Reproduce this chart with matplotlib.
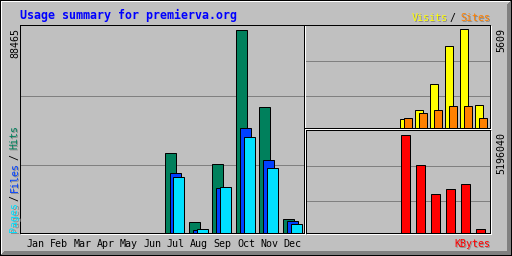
import matplotlib
matplotlib.use("Agg")
import matplotlib.pyplot as plt
from matplotlib.patches import Rectangle, Polygon
from matplotlib.transforms import blended_transform_factory
import numpy as np

# ---- data ----
months = ["Jan", "Feb", "Mar", "Apr", "May", "Jun",
          "Jul", "Aug", "Sep", "Oct", "Nov", "Dec"]
hits = [0, 0, 0, 0, 0, 0, 34428, 4358, 29634, 88465, 54474, 6101]
files = [0, 0, 0, 0, 0, 0, 25713, 1307, 19175, 45323, 31377, 4794]
pages = [0, 0, 0, 0, 0, 0, 23969, 1743, 19611, 41401, 27891, 3922]
visits = [0, 0, 0, 0, 0, 0, 458, 1030, 2518, 4693, 5609, 1316]
sites = [0, 0, 0, 0, 0, 0, 572, 858, 1030, 1202, 1202, 572]
kbytes = [0, 0, 0, 0, 0, 0, 5196040, 3605400, 2014800, 2279900, 2545000, 212000]
title = "Usage summary for premierva.org"

# ---- colours ----
BG = "#c0c0c0"
DKGREY = "#808080"
C_HITS = "#00805c"
C_FILES = "#0040ff"
C_PAGES = "#00e0ff"
C_VISITS = "#ffff00"
C_SITES = "#ff8000"
C_KB = "#ff0000"
MONO = "DejaVu Sans Mono"

W, H = 512, 256
fig = plt.figure(figsize=(W / 100, H / 100), dpi=100)
fig.patch.set_facecolor(BG)


def px_axes(u0, u1, v0, v1, z=1):
    ax = fig.add_axes([u0 / W, 1 - v1 / H, (u1 - u0) / W, (v1 - v0) / H])
    ax.set_axis_off()
    ax.set_zorder(z)
    return ax


# overlay in pixel coordinates
ov = fig.add_axes([0, 0, 1, 1])
ov.set_xlim(0, W)
ov.set_ylim(H, 0)
ov.set_axis_off()
ov.set_zorder(10)
ov.patch.set_alpha(0)


def cell(c0, r0, c1, r1, color):
    ov.add_patch(Rectangle((c0, r0), c1 - c0 + 1, r1 - r0 + 1, facecolor=color,
                           edgecolor="none", lw=0, antialiased=False))


# outer 3D frame
cell(0, 0, W - 1, 0, "black")
cell(0, H - 1, W - 1, H - 1, "black")
cell(0, 0, 0, H - 1, "black")
cell(W - 1, 0, W - 1, H - 1, "black")
cell(1, 1, W - 2, 1, "white")
cell(1, 1, 1, H - 2, "white")
ov.add_patch(Polygon([(W - 1, 1), (W - 5, 5), (W - 5, H - 5), (W - 1, H - 1)],
                     closed=True, facecolor=DKGREY, edgecolor="none", antialiased=False))
ov.add_patch(Polygon([(1, H - 1), (5, H - 5), (W - 5, H - 5), (W - 1, H - 1)],
                     closed=True, facecolor=DKGREY, edgecolor="none", antialiased=False))


def panel(c0, r0, c1, r1):
    # black rectangle then white rectangle offset by one pixel
    cell(c0, r0, c1, r0, "black")
    cell(c0, r0, c0, r1, "black")
    cell(c0, r1, c1, r1, "black")
    cell(c1, r0, c1, r1, "black")
    cell(c0 + 1, r1 + 1, c1 + 1, r1 + 1, "white")
    cell(c1 + 1, r0 + 1, c1 + 1, r1 + 1, "white")


panel(20, 25, 304, 233)
panel(304, 25, 490, 128)
panel(306, 130, 490, 233)

# ---- hits / files / pages ----
SP = 23.4       # pixels per month
X0 = 25.1       # pixel of first hits bar left edge
axh = px_axes(21, 304, 26, 232.5)
axh.set_xlim((21 - X0) / SP, (304 - X0) / SP)
axh.set_ylim(0, max(hits) * 206.5 / 203)
for f in (0.6634, 0.3245):
    axh.plot([0, 1], [f, f], color=DKGREY, lw=0.72, transform=axh.transAxes, zorder=0)
x = np.arange(12)
bw = 11 / SP
for vals, col, off in ((hits, C_HITS, 0), (files, C_FILES, 4), (pages, C_PAGES, 8)):
    v = np.array(vals, dtype=float)
    m = v > 0
    axh.bar(x[m] + off / SP, v[m], width=bw, align="edge", color=col,
            edgecolor="black", linewidth=0.72, zorder=2)

# ---- visits / sites ----
SP2 = 15.0
X2 = 309.5
axv = px_axes(305, 490, 26, 127.5)
axv.set_xlim((305 - X2) / SP2, (490 - X2) / SP2)
axv.set_ylim(0, max(visits) * 101.5 / 98)
for f in (0.660, 0.315):
    axv.plot([0, 1], [f, f], color=DKGREY, lw=0.72, transform=axv.transAxes, zorder=0)
bw2 = 8 / SP2
for vals, col, off in ((visits, C_VISITS, 0), (sites, C_SITES, 4)):
    v = np.array(vals, dtype=float)
    m = v > 0
    axv.bar(x[m] + off / SP2, v[m], width=bw2, align="edge", color=col,
            edgecolor="black", linewidth=0.72, zorder=2)

# ---- kbytes ----
axk = px_axes(307, 490, 131, 232.5)
axk.set_xlim((307 - X2) / SP2, (490 - X2) / SP2)
axk.set_ylim(0, max(kbytes) * 101.5 / 98)
for f in (0.660, 0.315):
    axk.plot([0, 1], [f, f], color=DKGREY, lw=0.72, transform=axk.transAxes, zorder=0)
v = np.array(kbytes, dtype=float)
m = v > 0
axk.bar(x[m] + 1 / SP2, v[m], width=9 / SP2, align="edge", color=C_KB,
        edgecolor="black", linewidth=0.72, zorder=2)

# ---- text ----
FS = 7.2
ov.text(20, 19, title, color="#0000ff", fontsize=8.4, fontweight="bold",
        family=MONO, ha="left", va="baseline")

tr = blended_transform_factory(axh.transData, ov.transData)
for i, mname in enumerate(months):
    ov.text(i + 10.3 / SP, 247, mname, transform=tr, fontsize=FS, family=MONO,
            color="black", ha="center", va="baseline")


def stext(u, v, s, color, rot=0, shadow=True):
    kw = dict(fontsize=FS, family=MONO, ha="left", va="baseline",
              rotation=rot, rotation_mode="anchor")
    if shadow:
        ov.text(u + 1, v + 1, s, color=DKGREY, alpha=0.8, **kw)
    ov.text(u, v, s, color=color, **kw)


stext(412, 21, "Visits", C_VISITS)
stext(449, 21, "/", "black", shadow=False)
stext(460, 21, "Sites", C_SITES)
stext(454, 247, "KBytes", C_KB)

stext(17.5, 232, "Pages", C_PAGES, rot=90)
stext(17.5, 201, "/", "black", rot=90, shadow=False)
stext(17.5, 192, "Files", C_FILES, rot=90)
stext(17.5, 160, "/", "black", rot=90, shadow=False)
stext(17.5, 149, "Hits", C_HITS, rot=90)

stext(18, 57.5, f"{max(hits)}", "black", rot=90, shadow=False)
stext(504.5, 52.5, f"{max(visits)}", "black", rot=90, shadow=False)
stext(504.5, 174, f"{max(kbytes)}", "black", rot=90, shadow=False)

fig.savefig("out.png", dpi=100, facecolor=BG)
